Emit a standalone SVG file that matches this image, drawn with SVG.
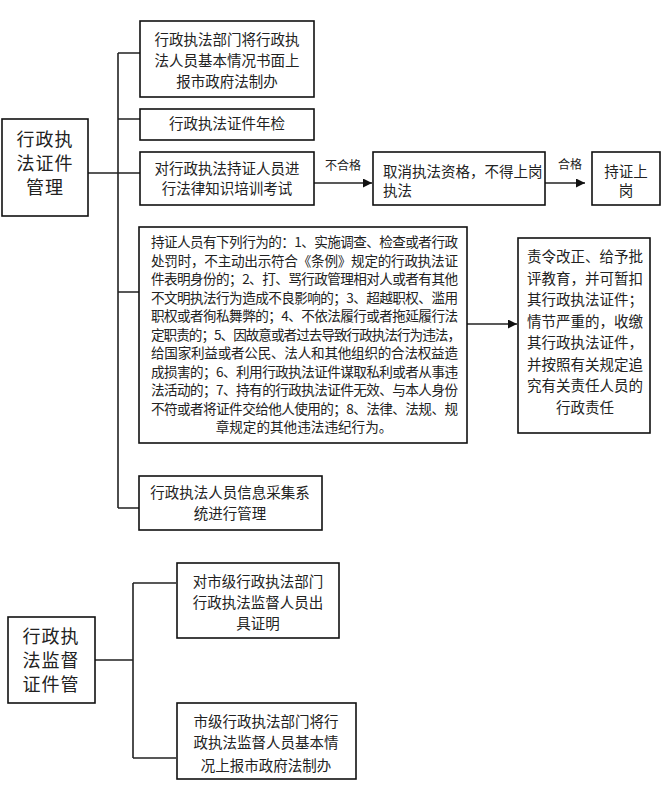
<svg xmlns="http://www.w3.org/2000/svg" width="663" height="786" viewBox="0 0 663 786">
<defs>
<marker id="arr" viewBox="0 0 10 10" refX="10" refY="5" markerWidth="9" markerHeight="9" markerUnits="userSpaceOnUse" orient="auto"><path d="M0,0 L10,5 L0,10 z" fill="#111"/></marker>
<style>
.box{fill:#fff;stroke:#111;stroke-width:1.6}
.ln{fill:none;stroke:#222;stroke-width:1.6}
text{font-family:"Noto Sans CJK SC","Noto Sans",sans-serif;fill:#222}
.big{font-size:18px;text-anchor:middle}
.t{font-size:14.5px;text-anchor:middle}
.s{font-size:13.6px}
.lb{font-size:12px;text-anchor:middle}
</style>
</defs>
<rect width="663" height="786" fill="#fff"/>
<g id="connectors">
<path class="ln" d="M88,173 H118 M118,53 V508 M118,53 H140 M118,119 H140 M118,173 H140 M118,292 H139 M118,508 H139"/>
<path class="ln" d="M314,183 H372" marker-end="url(#arr)"/>
<path class="ln" d="M545,183 H585" marker-end="url(#arr)"/>
<path class="ln" d="M467,324 H517" marker-end="url(#arr)"/>
<path class="ln" d="M95,660 H133 M133,583 V758 M133,583 H176 M133,758 H176"/>
<text class="lb" x="343" y="170">不合格</text>
<text class="lb" x="570" y="169">合格</text>
</g>
<g id="n-main1">
<rect class="box" x="2" y="119" width="86" height="97"/>
<text class="big" letter-spacing="1"><tspan x="45" y="146">行政执</tspan><tspan x="45" y="170">法证件</tspan><tspan x="45" y="194">管理</tspan></text>
</g>
<g id="n-report">
<rect class="box" x="140" y="21" width="174" height="76"/>
<text class="t" x="227" y="45">行政执法部门将行政执</text>
<text class="t" x="227" y="66">法人员基本情况书面上</text>
<text class="t" x="227" y="87">报市政府法制办</text>
</g>
<g id="n-annual">
<rect class="box" x="140" y="109" width="174" height="31"/>
<text class="t" x="227" y="129">行政执法证件年检</text>
</g>
<g id="n-exam">
<rect class="box" x="140" y="152" width="174" height="53"/>
<text class="t" x="227" y="174">对行政执法持证人员进</text>
<text class="t" x="227" y="194">行法律知识培训考试</text>
</g>
<g id="n-cancel">
<rect class="box" x="373" y="152" width="172" height="53"/>
<text class="t" x="383" y="177" style="text-anchor:start">取消执法资格，不得上岗</text>
<text class="t" x="383" y="196" style="text-anchor:start">执法</text>
</g>
<g id="n-pass">
<rect class="box" x="592" y="152" width="68" height="53"/>
<text class="t" x="626" y="177">持证上</text>
<text class="t" x="626" y="196">岗</text>
</g>
<g id="n-violations">
<rect class="box" x="139" y="227" width="328" height="216"/>
<text class="s" x="151" y="247" textLength="307" lengthAdjust="spacing">持证人员有下列行为的：1、实施调查、检查或者行政</text>
<text class="s" x="151" y="265.5" textLength="307" lengthAdjust="spacing">处罚时，不主动出示符合《条例》规定的行政执法证</text>
<text class="s" x="151" y="284" textLength="307" lengthAdjust="spacing">件表明身份的；2、打、骂行政管理相对人或者有其他</text>
<text class="s" x="151" y="302.5" textLength="307" lengthAdjust="spacing">不文明执法行为造成不良影响的；3、超越职权、滥用</text>
<text class="s" x="151" y="321" textLength="307" lengthAdjust="spacing">职权或者徇私舞弊的；4、不依法履行或者拖延履行法</text>
<text class="s" x="151" y="339.5" textLength="310" lengthAdjust="spacing">定职责的；5、因故意或者过去导致行政执法行为违法，</text>
<text class="s" x="151" y="358" textLength="307" lengthAdjust="spacing">给国家利益或者公民、法人和其他组织的合法权益造</text>
<text class="s" x="151" y="376.5" textLength="307" lengthAdjust="spacing">成损害的；6、利用行政执法证件谋取私利或者从事违</text>
<text class="s" x="151" y="395" textLength="307" lengthAdjust="spacing">法活动的；7、持有的行政执法证件无效、与本人身份</text>
<text class="s" x="151" y="413.5" textLength="307" lengthAdjust="spacing">不符或者将证件交给他人使用的；8、法律、法规、规</text>
<text class="s" x="304" y="432" style="text-anchor:middle">章规定的其他违法违纪行为。</text>
</g>
<g id="n-penalty">
<rect class="box" x="518" y="238" width="132" height="195"/>
<text class="t" x="585" y="262">责令改正、给予批</text>
<text class="t" x="585" y="283.5">评教育，并可暂扣</text>
<text class="t" x="585" y="305">其行政执法证件；</text>
<text class="t" x="585" y="326.5">情节严重的，收缴</text>
<text class="t" x="585" y="348">其行政执法证件，</text>
<text class="t" x="585" y="369.5">并按照有关规定追</text>
<text class="t" x="585" y="391">究有关责任人员的</text>
<text class="t" x="585" y="412.5">行政责任</text>
</g>
<g id="n-info">
<rect class="box" x="139" y="476" width="183" height="54"/>
<text class="t" x="230" y="498">行政执法人员信息采集系</text>
<text class="t" x="230" y="519">统进行管理</text>
</g>
<g id="n-main2">
<rect class="box" x="8" y="617" width="87" height="86"/>
<text class="big" letter-spacing="1"><tspan x="51" y="643">行政执</tspan><tspan x="51" y="667">法监督</tspan><tspan x="51" y="691">证件管</tspan></text>
</g>
<g id="n-certify">
<rect class="box" x="177" y="563" width="162" height="75"/>
<text class="t" x="258" y="587">对市级行政执法部门</text>
<text class="t" x="258" y="608">行政执法监督人员出</text>
<text class="t" x="258" y="629">具证明</text>
</g>
<g id="n-report2">
<rect class="box" x="177" y="703" width="179" height="76"/>
<text class="t" x="266" y="727">市级行政执法部门将行</text>
<text class="t" x="266" y="748">政执法监督人员基本情</text>
<text class="t" x="266" y="771">况上报市政府法制办</text>
</g>
</svg>
